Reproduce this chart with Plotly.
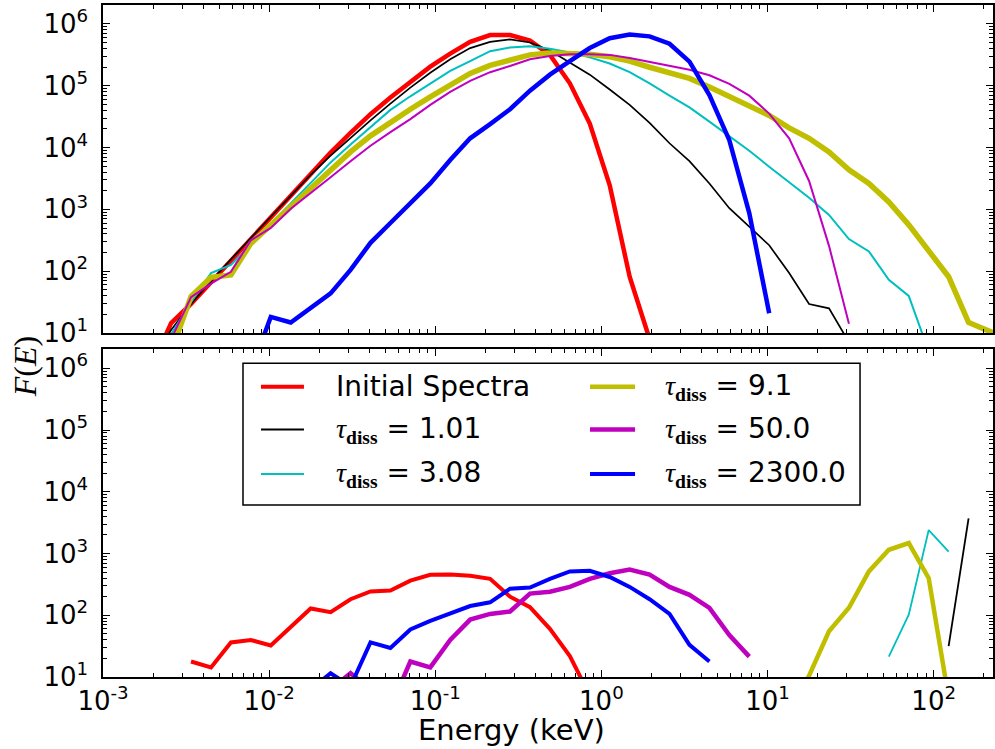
import plotly.graph_objects as go

# ---------------- data ----------------
ENERGY_KEV = [0.001950, 0.002570, 0.003388, 0.004467, 0.005888, 0.007762, 0.01023, 0.01349,
              0.01778, 0.02344, 0.03090, 0.04074, 0.05370, 0.07079, 0.09333, 0.1230,
              0.1622, 0.2138, 0.2818, 0.3715, 0.4898, 0.6457, 0.8511, 1.122,
              1.479, 1.950, 2.570, 3.388, 4.467, 5.888, 7.762, 10.23,
              13.49, 17.78, 23.44, 30.90, 40.74, 53.70, 70.79, 93.33,
              123.0, 162.2, 213.8, 281.8]

# upper panel (first energy-bin index, values)
INITIAL_TOP_START = 0
INITIAL_TOP = [2.75, 14.5, 29.5, 66.1, 148, 339, 759, 1738, 3890, 8318, 17378, 34674, 64565,
               117490, 204174, 331131, 512861, 660693, 660693, 537032, 316228, 109648, 24547,
               2455, 81.3, 7.94]
TAU101_TOP_START = 0
TAU101_TOP = [3.16, 11.2, 29.5, 69.2, 155, 347, 759, 1660, 3631, 7413, 14454, 27542, 51286,
              93325, 162181, 269153, 407380, 512861, 562341, 501187, 371535, 234423, 151356,
              87096, 48978, 25119, 11749, 6026, 2630, 1047, 525, 263, 93.3, 29.5, 25.1, 7.08]
TAU308_TOP_START = 0
TAU308_TOP = [2.51, 9.55, 31.6, 93.3, 126, 269, 575, 1259, 2692, 5754, 11220, 21380, 40738,
              67608, 109648, 173780, 251189, 363078, 416869, 436516, 398107, 346737, 288403,
              229087, 165959, 109648, 69183, 44668, 26303, 15136, 8913, 4898, 2754, 1549, 813,
              331, 209, 72.4, 39.8, 5.01]
TAU91_TOP_START = 1
TAU91_TOP = [5.01, 38.9, 79.4, 87.1, 282, 562, 1122, 2239, 4365, 8511, 15488, 25704, 41687,
             66069, 104713, 158489, 213796, 263027, 316228, 338844, 338844, 323594, 295121,
             251189, 199526, 165959, 131826, 95499, 66069, 47863, 33113, 20893, 14125, 8511,
             4365, 2630, 1318, 562, 209, 81.3, 14.8, 11.0, 7.94]
TAU50_TOP_START = 1
TAU50_TOP = [7.94, 38.0, 63.1, 97.7, 316, 501, 1023, 1820, 3311, 6026, 10715, 17783, 28840,
             48978, 79433, 120226, 165959, 208930, 269153, 301995, 323594, 323594, 316228,
             281838, 245471, 208930, 181970, 147911, 107152, 69183, 35481, 14125, 2884, 257, 14.1]
TAU2300_TOP_START = 5
TAU2300_TOP = [2.45, 18.2, 14.8, 25.1, 43.7, 105, 288, 603, 1259, 2630, 6310, 14125, 23988,
               41687, 83176, 151356, 251189, 407380, 588844, 676083, 630957, 478630, 245471,
               70795, 13183, 871, 20.9]

# lower panel
INITIAL_BOT_START = 2
INITIAL_BOT = [17.8, 14.3, 36.3, 39.8, 32.4, 64.6, 129, 112, 182, 243, 251, 363, 452, 457,
               437, 389, 200, 135, 60.3, 21.9, 5.0]
TAU101_BOT_START = 40
TAU101_BOT = [31.6, 3715]
TAU308_BOT_START = 37
TAU308_BOT = [21.4, 102, 2399, 1072]
TAU91_BOT_START = 32
TAU91_BOT = [3.2, 10.5, 55.0, 132, 513, 1148, 1479, 398, 4.6]
TAU50_BOT_START = 9
TAU50_BOT = [6.3, 11.5, 6.3, 3.2, 17.8, 14.3, 39.8, 85.1, 105, 115, 224, 240, 288, 389, 479,
             550, 457, 288, 214, 132, 47.9, 21.4]
TAU2300_BOT_START = 8
TAU2300_BOT = [6.3, 11.5, 7.1, 36.3, 29.5, 58.9, 81.3, 105, 141, 162, 269, 282, 389, 513, 525,
               417, 288, 182, 105, 33.1, 17.8]

TAU_VALUES = ["1.01", "3.08", "9.1", "50.0", "2300.0"]
X_TICKVALS = [1e-3, 1e-2, 1e-1, 1e0, 1e1, 1e2]
X_TICKTEXT = ["10<sup>-3</sup>", "10<sup>-2</sup>", "10<sup>-1</sup>", "10<sup>0</sup>",
              "10<sup>1</sup>", "10<sup>2</sup>"]
Y_TICKVALS = [1e1, 1e2, 1e3, 1e4, 1e5, 1e6]
Y_TICKTEXT = ["10<sup>1</sup>", "10<sup>2</sup>", "10<sup>3</sup>", "10<sup>4</sup>",
              "10<sup>5</sup>", "10<sup>6</sup>"]

# ---------------- styling ----------------
TAU = "<span style='font-family:Liberation Serif'><i>τ</i><sub><b>diss</b></sub></span> = "
NAMES = ["Initial Spectra"] + [TAU + v for v in TAU_VALUES]
COLORS = ["#ff0000", "#000000", "#00bfbf", "#bfbf00", "#bf00bf", "#0000ff"]
TOP_WIDTHS = [4.5, 1.7, 2.0, 5.5, 2.0, 4.5]
BOT_WIDTHS = [4.0, 1.8, 1.8, 4.5, 4.5, 4.0]

# legend layout (paper coordinates): column / row of each entry
LEG_COL = [0, 0, 0, 1, 1, 1]
LEG_ROW = [0, 1, 2, 0, 1, 2]
LEG_ROW_Y = [0.4320, 0.3683, 0.3021]
LEG_LINE_X = [(0.1775, 0.2258), (0.5472, 0.5978)]
LEG_TEXT_X = [0.2596, 0.6292]
LEG_BOX = dict(x0=0.1573, x1=0.8506, y0=0.2560, y1=0.4668)

top_series = [(INITIAL_TOP_START, INITIAL_TOP), (TAU101_TOP_START, TAU101_TOP),
              (TAU308_TOP_START, TAU308_TOP), (TAU91_TOP_START, TAU91_TOP),
              (TAU50_TOP_START, TAU50_TOP), (TAU2300_TOP_START, TAU2300_TOP)]
bot_series = [(INITIAL_BOT_START, INITIAL_BOT), (TAU101_BOT_START, TAU101_BOT),
              (TAU308_BOT_START, TAU308_BOT), (TAU91_BOT_START, TAU91_BOT),
              (TAU50_BOT_START, TAU50_BOT), (TAU2300_BOT_START, TAU2300_BOT)]

fig = go.Figure()
for i, (s, vals) in enumerate(top_series):
    fig.add_trace(go.Scatter(x=ENERGY_KEV[s:s + len(vals)], y=vals, mode="lines",
                             line=dict(color=COLORS[i], width=TOP_WIDTHS[i]),
                             xaxis="x2", yaxis="y2", showlegend=False, name=NAMES[i]))
for i, (s, vals) in enumerate(bot_series):
    fig.add_trace(go.Scatter(x=ENERGY_KEV[s:s + len(vals)], y=vals, mode="lines",
                             line=dict(color=COLORS[i], width=BOT_WIDTHS[i]),
                             xaxis="x", yaxis="y", showlegend=False, name=NAMES[i]))

axis_common = dict(type="log", showline=True, linecolor="black", linewidth=1.5,
                   mirror="allticks", ticks="inside", ticklen=7, tickwidth=1.2,
                   tickcolor="black", showgrid=False, zeroline=False, automargin=False,
                   tickfont=dict(size=26, color="black"),
                   minor=dict(ticks="inside", ticklen=4, tickwidth=1, tickcolor="black",
                              dtick="D1", showgrid=False))

X_RANGE = [-3, 2.357]
Y_RANGE = [1, 6.307]

shapes = [dict(type="rect", xref="paper", yref="paper", line=dict(color="black", width=1.5),
               fillcolor="white", layer="above", **LEG_BOX)]
annotations = [
    dict(text="Energy (keV)", xref="paper", yref="paper", x=0.459, y=-0.079,
         xanchor="center", yanchor="middle", showarrow=False,
         font=dict(size=29, family="DejaVu Sans", color="black")),
    dict(text="<i>F</i>(<i>E</i>)", xref="paper", yref="paper", x=-0.0876, y=0.461,
         xanchor="center", yanchor="middle", showarrow=False, textangle=-90,
         font=dict(size=32, family="Liberation Serif", color="black")),
]
for i in range(6):
    c, r = LEG_COL[i], LEG_ROW[i]
    x0, x1 = LEG_LINE_X[c]
    shapes.append(dict(type="line", xref="paper", yref="paper", x0=x0, x1=x1,
                       y0=LEG_ROW_Y[r], y1=LEG_ROW_Y[r], layer="above",
                       line=dict(color=COLORS[i], width=BOT_WIDTHS[i])))
    annotations.append(dict(text=NAMES[i], xref="paper", yref="paper", x=LEG_TEXT_X[c],
                            y=LEG_ROW_Y[r], xanchor="left", yanchor="middle",
                            showarrow=False,
                            font=dict(size=28, family="DejaVu Sans", color="black")))

fig.update_layout(
    width=995, height=749,
    margin=dict(l=103, r=2, t=5, b=72),
    paper_bgcolor="white", plot_bgcolor="white",
    font=dict(family="DejaVu Sans", size=26, color="black"),
    showlegend=False,
    xaxis=dict(axis_common, domain=[0, 1], anchor="y", range=X_RANGE,
               tickmode="array", tickvals=X_TICKVALS, ticktext=X_TICKTEXT),
    xaxis2=dict(axis_common, domain=[0, 1], anchor="y2", range=X_RANGE, matches="x",
                tickmode="array", tickvals=X_TICKVALS, showticklabels=False),
    yaxis=dict(axis_common, domain=[0, 0.4876], anchor="x", range=Y_RANGE,
               tickmode="array", tickvals=Y_TICKVALS, ticktext=Y_TICKTEXT, ticklabelstandoff=8),
    yaxis2=dict(axis_common, domain=[0.5119, 1], anchor="x2", range=Y_RANGE,
                tickmode="array", tickvals=Y_TICKVALS, ticktext=Y_TICKTEXT, ticklabelstandoff=8),
    shapes=shapes,
    annotations=annotations,
)

fig.write_html("out.html", config={"displayModeBar": False},
               post_script="document.body.style.margin='0';document.body.style.padding='0';")
